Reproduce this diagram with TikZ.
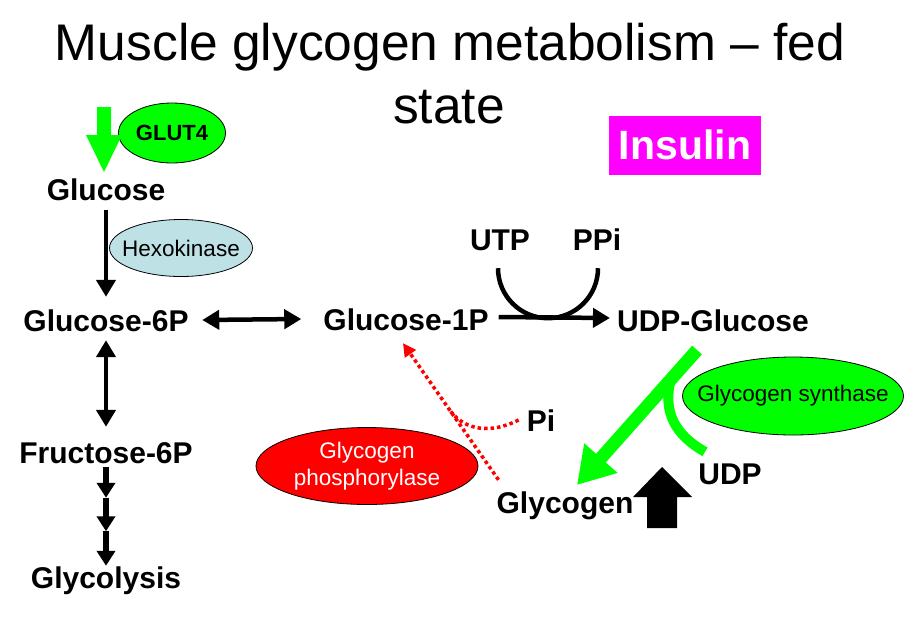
\documentclass[tikz,border=0pt]{standalone}
\usepackage{fontspec}
\setmainfont{Liberation Sans}
\usetikzlibrary{arrows.meta,calc,shapes.geometric}
\definecolor{pgreen}{RGB}{0,255,0}
\definecolor{hexblue}{RGB}{190,225,230}
\definecolor{pmag}{RGB}{255,0,255}
\definecolor{pred}{RGB}{255,0,0}
\begin{document}
\begin{tikzpicture}[x=1pt,y=-1pt,
  metab/.style={font=\fontsize{30}{36}\selectfont\bfseries, inner sep=0pt, text height=22pt, text depth=0pt, anchor=base},
  titletext/.style={font=\fontsize{51.5}{60}\selectfont, inner sep=0pt, anchor=base},
  enz/.style={ellipse, draw=black, line width=0.8pt, inner sep=0pt},
  enzlabel/.style={font=\fontsize{22.5}{27}\selectfont, align=center, inner sep=0pt},
  blk/.style={line width=4.5pt, -{Triangle[length=17pt,width=19pt]}},
  blkboth/.style={line width=4.5pt, {Triangle[length=17pt,width=19pt]}-{Triangle[length=17pt,width=19pt]}},
  blksmall/.style={line width=6pt, -{Triangle[length=15pt,width=18pt]}},
  reddot/.style={draw=pred, line width=3.5pt, dash pattern=on 3.5pt off 3pt},
  greenline/.style={draw=pgreen, line cap=butt}
]
\useasboundingbox (0,0) rectangle (920,627);
\fill[white] (0,0) rectangle (920,627);

% title
\node[titletext] (title1) at (450,60) {Muscle glycogen metabolism -- fed};
\node[titletext] (title2) at (449,123) {state};

% insulin
\node[fill=pmag, minimum width=152pt, minimum height=59pt, inner sep=0pt,
      font=\fontsize{41}{48}\selectfont\bfseries, text=white] (ins) at (685,145) {Insulin};

% metabolites
\node[metab] (glc) at (106,200) {Glucose};
\node[metab] (g6p) at (106,331) {Glucose-6P};
\node[metab] (g1p) at (406,330) {Glucose-1P};
\node[metab] (udpg) at (713,331) {UDP-Glucose};
\node[metab] (utp) at (500,250) {UTP};
\node[metab] (ppi) at (597,250) {PPi};
\node[metab] (f6p) at (106,463) {Fructose-6P};
\node[metab] (gly) at (106,588) {Glycolysis};
\node[metab] (glyc) at (565,513) {Glycogen};
\node[metab] (pi) at (541,431) {Pi};
\node[metab] (udp) at (730,484) {UDP};

% enzymes
\node[enz, fill=pgreen, minimum width=107pt, minimum height=60pt,
  label={[font=\fontsize{22}{26}\selectfont\bfseries, inner sep=0pt]center:GLUT4}] (glut4) at (172,133) {};
\node[enz, fill=hexblue, minimum width=143pt, minimum height=57pt,
  label={[enzlabel]center:Hexokinase}] (hex) at (181,248) {};
\node[enz, fill=pgreen, minimum width=221pt, minimum height=78pt,
  label={[enzlabel]center:Glycogen synthase}] (gs) at (793,396) {};
\node[enz, fill=pred, minimum width=222pt, minimum height=77pt,
  label={[enzlabel, text=white]center:{Glycogen\\phosphorylase}}] (gp) at (367,466) {};

% glucose import arrow (GLUT4)
\fill[pgreen] (97,107) -- (111,107) -- (111,135) -- (122,135) -- (104,172) -- (86,135) -- (97,135) -- cycle;

% left column
\draw[blk] ([yshift=-10pt]glc.south) -- ([yshift=12pt]g6p.north);
\draw[blkboth] ([yshift=-9pt]g6p.south) -- ([yshift=14pt]f6p.north);
\coordinate (s0) at ([yshift=-4pt]f6p.south);
\coordinate (s3) at ([yshift=0pt]gly.north);
\coordinate (s1) at ($(s0)!0.31!(s3)$);
\coordinate (s2) at ($(s0)!0.65!(s3)$);
\draw[blksmall] (s0) -- (s1);
\draw[blksmall] (s1) -- (s2);
\draw[blksmall] (s2) -- (s3);

% horizontal
\draw[blkboth] ([xshift=13.5pt]g6p.east) -- ([xshift=-22pt]g1p.west);
\draw[blk] ([xshift=10pt,yshift=2pt]g1p.east) -- ([xshift=-7pt,yshift=2pt]udpg.west);

% UTP / PPi arc
\draw[line width=4.5pt] ([xshift=-2pt,yshift=-18pt]utp.south) arc[start angle=180, end angle=360, radius=50pt];

% glycogen synthase arrow
\coordinate (ga) at (697,350);
\coordinate (gb) at (577,485);
\draw[greenline, line width=13pt, -{Triangle[length=36pt,width=42pt]}] (ga) -- (gb);
\draw[greenline, line width=10pt] (670,383) .. controls (662,420) and (684,440) .. ([xshift=-25pt,yshift=10pt]udp.north);

% glycogen phosphorylase (red dotted)
\coordinate (ph1) at ([xshift=2pt,yshift=11pt]glyc.north west);
\coordinate (ph2) at ([xshift=-3pt,yshift=-13pt]g1p.south);
\draw[reddot, -{Triangle[length=13pt,width=13pt]}] (ph1) -- (ph2);
\draw[reddot] ([xshift=-8pt]pi.west) .. controls +(-28,14) and +(15,19) .. ($(ph1)!0.5!(ph2)$);

% insulin up arrow
\fill[black] (647,528) -- (677,528) -- (677,497) -- (692,497) -- (662,467) -- (633,497) -- (647,497) -- cycle;
\end{tikzpicture}
\end{document}
